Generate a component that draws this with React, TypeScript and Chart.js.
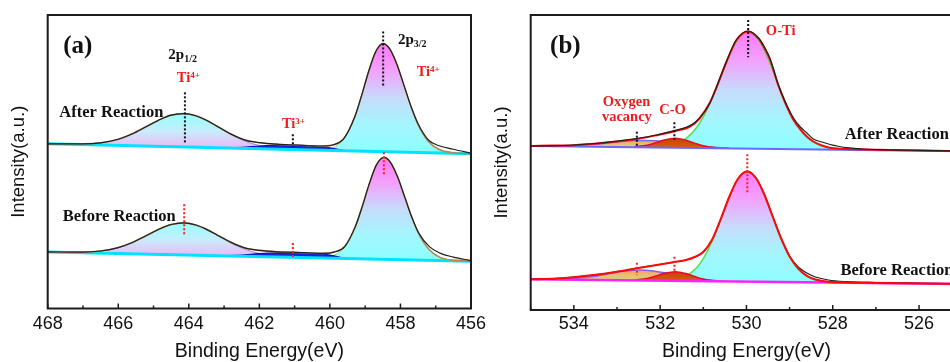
import React, { useEffect, useRef } from "react";
import { Chart, registerables } from "chart.js";

Chart.register(...registerables);

// ---------------- Panel (a): Ti 2p ----------------
const A_TICKS = [456, 458, 460, 462, 464, 466, 468];
const A_MINOR = [457, 459, 461, 463, 465, 467];

const A_AFTER_RAW_E = [468, 467, 466.5, 466, 465.6, 465.2, 464.8, 464.5, 464.15, 463.8, 463.5, 463.2, 462.8, 462.4, 462, 461.5, 461, 460.5, 460.2, 459.9, 459.6, 459.3, 459.1, 458.9, 458.7, 458.49, 458.3, 458.1, 457.9, 457.7, 457.5, 457.2, 456.9, 456.5, 456];
const A_AFTER_RAW_I = [165, 165, 166, 169.5, 175, 182.3, 189.6, 193.7, 195.3, 193.1, 188.6, 182.6, 174.7, 168.7, 166.1, 164.6, 163.8, 163, 162.8, 164, 170.5, 191.5, 213.5, 237.7, 257.3, 265.3, 259.8, 244.5, 223.5, 202.3, 185, 168.5, 163, 159.5, 155.5];
const A_AFTER_FIT_I = [165, 165, 166, 169.5, 175, 182.3, 189.6, 193.7, 195.3, 193.1, 188.6, 182.6, 174.7, 168.7, 166.1, 164.6, 163.8, 163, 162.8, 164, 170.5, 191.5, 213.5, 237.7, 257.3, 265.3, 259.8, 244.5, 223.5, 202.3, 184.2, 167, 159.2, 156, 155.1];

const A_BEFORE_RAW_E = [468, 467, 466.5, 466, 465.6, 465.2, 464.8, 464.5, 464.15, 463.8, 463.5, 463.2, 462.8, 462.4, 462, 461.5, 461, 460.5, 460.18, 459.88, 459.58, 459.28, 459.08, 458.88, 458.68, 458.47, 458.28, 458.08, 457.88, 457.68, 457.48, 457.18, 456.88, 456.5, 456];
const A_BEFORE_RAW_I = [56.7, 56.5, 57.6, 61, 66.1, 73.1, 80.2, 84.1, 85.8, 83.6, 79.3, 73.7, 66.2, 60.5, 58.2, 56.8, 56.2, 55.5, 55.2, 56.5, 62, 82, 102.5, 125.3, 143.9, 151.3, 146.2, 131.7, 111.8, 91.6, 75.5, 62, 55.5, 51.5, 48];
const A_BEFORE_FIT_I = [56.7, 56.5, 57.6, 61, 66.1, 73.1, 80.2, 84.1, 85.8, 83.6, 79.3, 73.7, 66.2, 60.5, 58.2, 56.8, 56.2, 55.5, 55.2, 56.5, 62, 82, 102.5, 125.3, 143.9, 151.3, 146.2, 131.7, 111.8, 91.6, 74.8, 58.8, 51.2, 48.2, 47.4];

const A_BG_E = [468, 456];
const A_AFTER_BG_I = [165, 155];
const A_BEFORE_BG_I = [56.7, 47.3];

const A_P12_E = [467.5, 467, 466.5, 466, 465.6, 465.2, 464.8, 464.5, 464.15, 463.8, 463.5, 463.2, 462.8, 462.4, 462, 461.5, 461];
const A_AFTER_P12_I = [164.7, 164.8, 165.85, 169.3, 174.7, 182.0, 189.4, 193.5, 195.2, 192.9, 188.35, 182.3, 174.1, 167.5, 163.3, 160.6, 159.4];
const A_BEFORE_P12_I = [56.4, 56.45, 57.5, 60.9, 66.0, 73.0, 80.1, 84.05, 85.7, 83.5, 79.1, 73.35, 65.5, 59.2, 55.2, 52.6, 51.4];

const A_TI3_E = [463, 462.5, 462, 461.5, 461, 460.5, 460, 459.6];
const A_AFTER_TI3_I = [160.9, 161.5, 162.8, 163.6, 163.6, 162.8, 161.0, 158.2];
const A_BEFORE_TI3_I = [52.9, 53.6, 55.0, 55.8, 56.0, 55.3, 53.5, 50.3];

const A_AFTER_P32_E = [460.2, 459.9, 459.6, 459.3, 459.1, 458.9, 458.7, 458.49, 458.3, 458.1, 457.9, 457.7, 457.5, 457.2, 456.9, 456.5];
const A_AFTER_P32_I = [159.1, 161.35, 170.1, 191.35, 213.3, 237.5, 257.15, 265.1, 259.6, 244.25, 223.2, 201.8, 183.85, 166.7, 158.95, 155.8];
const A_BEFORE_P32_E = [460.18, 459.88, 459.58, 459.28, 459.08, 458.88, 458.68, 458.47, 458.28, 458.08, 457.88, 457.68, 457.48, 457.18, 456.88, 456.48];
const A_BEFORE_P32_I = [51.2, 53.35, 61.5, 81.6, 102.3, 125.2, 143.8, 151.2, 146.05, 131.5, 111.65, 91.4, 74.55, 58.3, 51.05, 48.0];

const A_MARK_E = [464.11, 458.49, 461.05, 464.13, 458.47, 461.05];
const A_MARK_TOP = [216.5, 277.5, 174.5, 104.5, 156.5, 65.5];
const A_MARK_BOT = [165.5, 223.5, 161.8, 72.5, 132.5, 50.5];

// ---------------- Panel (b): O 1s ----------------
const B_TICKS = [526, 528, 530, 532, 534];
const B_MINOR = [525, 527, 529, 531, 533, 535];

const B_AFTER_RAW_E = [535, 534.5, 534, 533.5, 533.09, 532.54, 532.08, 531.67, 531.38, 531.19, 531.0, 530.84, 530.69, 530.46, 530.23, 529.96, 529.72, 529.57, 529.45, 529.26, 529.1, 528.91, 528.75, 528.6, 528.45, 528.25, 528.06, 527.9, 527.68, 527.3, 526.9, 526, 525];
const B_AFTER_RAW_I = [164, 164.2, 165, 166.5, 168.3, 171.5, 175, 179.3, 183, 187.5, 196.5, 207.5, 223.5, 249, 270.5, 279, 272, 262, 251, 225, 208, 192, 183, 177, 171, 168, 165.5, 164, 162.3, 161, 160.3, 159.6, 159];
const B_AFTER_FIT_E = [535, 534.78, 534.01, 533.24, 532.54, 532.08, 531.65, 531.31, 531.08, 530.84, 530.69, 530.46, 530.23, 529.96, 529.72, 529.57, 529.45, 529.26, 529.1, 528.91, 528.75, 528.6, 528.45, 528.25, 528.07, 527.8, 527, 526, 525];
const B_AFTER_FIT_I = [164, 164.3, 164.8, 167.5, 171, 174.8, 179, 183.3, 192, 208, 223, 248.5, 270, 278.6, 271.5, 261, 250, 224.5, 207, 190, 180.5, 173.5, 168.5, 164.5, 162.3, 161.2, 160.3, 159.5, 158.8];

const B_BEFORE_E = [535, 534.5, 534, 533.5, 533, 532.54, 532.08, 531.67, 531.4, 531.2, 531.0, 530.8, 530.6, 530.4, 530.2, 529.98, 529.78, 529.6, 529.4, 529.2, 529.0, 528.8, 528.6, 528.4, 528.1, 527.7, 527, 526, 525];
const B_BEFORE_RAW_I = [30.7, 31.2, 32.8, 35.2, 38.3, 41.8, 45, 48, 50, 53, 58, 70, 90.5, 113, 131, 138.8, 132, 117, 94.5, 72, 54, 43, 37, 33, 30, 28.4, 27.4, 26.7, 26.2];
const B_BEFORE_FIT_I = [30.7, 31.2, 32.8, 35.2, 38.3, 41.8, 45, 48, 50, 53, 58, 70, 90.5, 113, 131, 138.5, 132, 117, 94.5, 72, 53.5, 41.5, 34.2, 30.5, 28.3, 27.6, 27.1, 26.5, 26];

const B_BG_E = [535, 525];
const B_AFTER_BG_I = [164, 158.8];
const B_BEFORE_BG_I = [30.7, 26];

const B_AFTER_OTI_E = [532.0, 531.7, 531.4, 531.15, 531.0, 530.8, 530.6, 530.38, 530.2, 529.96, 529.75, 529.57, 529.4, 529.26, 529.1, 528.91, 528.75, 528.6, 528.4, 528.2, 527.9, 527.5];
const B_AFTER_OTI_I = [163.1, 165.2, 171.4, 182.7, 193.1, 211.3, 232.7, 255.9, 270.5, 278.4, 272.2, 258.4, 240.9, 225.3, 208.3, 191.2, 180.4, 172.9, 166.6, 163.2, 160.9, 160.15];
const B_BEFORE_OTI_E = [532.0, 531.7, 531.4, 531.15, 531.0, 530.8, 530.6, 530.4, 530.2, 529.98, 529.78, 529.6, 529.4, 529.2, 529.0, 528.8, 528.6, 528.4, 528.1, 527.7];
const B_BEFORE_OTI_I = [29.5, 30.4, 34.1, 42.6, 51.4, 68.2, 89.9, 112.6, 130.6, 138.3, 131.7, 116.4, 93.9, 71.5, 53.3, 40.9, 33.6, 30.0, 27.8, 27.1];

const B_AFTER_OVAC_E = [534.8, 534.3, 534.0, 533.6, 533.2, 532.9, 532.6, 532.35, 532.1, 531.8, 531.5, 531.2, 530.9, 530.4];
const B_AFTER_OVAC_I = [163.96, 164.0, 164.3, 165.4, 167.1, 168.4, 169.45, 169.6, 169.2, 167.8, 166.2, 164.5, 163.2, 162.0];
const B_BEFORE_OVAC_E = [534.8, 534.3, 534.0, 533.6, 533.2, 532.9, 532.6, 532.45, 532.2, 531.9, 531.6, 531.3, 531.0, 530.6];
const B_BEFORE_OVAC_I = [30.7, 30.9, 31.4, 33.2, 36.3, 38.5, 39.85, 40.0, 39.3, 37.2, 34.6, 32.15, 30.4, 29.1];

const B_CO_E = [532.6, 532.3, 532.1, 531.9, 531.65, 531.4, 531.2, 531.0, 530.7];
const B_AFTER_CO_I = [163.15, 164.8, 167.2, 170.0, 171.7, 169.7, 166.7, 164.1, 162.2];
const B_BEFORE_CO_I = [29.95, 31.5, 33.9, 36.6, 38.3, 36.4, 33.5, 30.9, 29.0];

const B_MARK_E = [529.96, 532.54, 531.67, 529.98, 532.54, 531.67];
const B_MARK_TOP = [290, 178.3, 187.7, 155.7, 47.3, 53.3];
const B_MARK_BOT = [252.7, 164, 170, 117.7, 34.7, 33.3];

// ---------------- styling ----------------
const SERIF = '"Liberation Serif", "Times New Roman", serif';
const SANS = '"Liberation Sans", Arial, sans-serif';
const INK = "#111111";
const RED = "#ee1c1c";

type Part = { t: string; size: number; dy?: number };
type Label = { e: number; h: number; color: string; parts: Part[] };

const A_LABELS: Label[] = [
  { e: 467.56, h: 256, color: INK, parts: [{ t: "(a)", size: 25 }] },
  { e: 464.58, h: 249.7, color: INK, parts: [{ t: "2p", size: 15 }, { t: "1/2", size: 10, dy: 2.5 }] },
  { e: 464.34, h: 227.3, color: RED, parts: [{ t: "Ti", size: 14.5 }, { t: "4+", size: 9, dy: -4 }] },
  { e: 467.67, h: 191.7, color: INK, parts: [{ t: "After Reaction", size: 16.5 }] },
  { e: 461.36, h: 180.7, color: RED, parts: [{ t: "Ti", size: 14.5 }, { t: "3+", size: 9, dy: -4 }] },
  { e: 458.07, h: 264.7, color: INK, parts: [{ t: "2p", size: 15 }, { t: "3/2", size: 10, dy: 2.5 }] },
  { e: 457.54, h: 233, color: RED, parts: [{ t: "Ti", size: 14.5 }, { t: "4+", size: 9, dy: -4 }] },
  { e: 467.57, h: 87.3, color: INK, parts: [{ t: "Before Reaction", size: 16.5 }] },
];

const B_LABELS: Label[] = [
  { e: 534.55, h: 257, color: INK, parts: [{ t: "(b)", size: 25 }] },
  { e: 529.55, h: 275, color: RED, parts: [{ t: "O-Ti", size: 14.5 }] },
  { e: 533.33, h: 204, color: RED, parts: [{ t: "Oxygen", size: 14.5 }] },
  { e: 533.35, h: 189.3, color: RED, parts: [{ t: "vacancy", size: 14.5 }] },
  { e: 532.02, h: 196, color: RED, parts: [{ t: "C-O", size: 14.5 }] },
  { e: 527.72, h: 170.7, color: INK, parts: [{ t: "After Reaction", size: 16.5 }] },
  { e: 527.82, h: 34.7, color: INK, parts: [{ t: "Before Reaction", size: 16.5 }] },
];

// gradient stops (top -> bottom)
const PINK_TO_CYAN = ["#ff78ff", "#f2a2fc", "#c6dcfc", "#a4f6ff", "#8cffff"];
const CYAN_TO_PINK = ["#94ffff", "#c8ecfc", "#f2b2f6"];
const OVAC_STOPS = ["#f4a068", "#e8c070", "#d2d878"];
const CO_STOPS = ["#c64400", "#d85c10"];

// ---------------- helpers ----------------
const pts = (xs: number[], ys: number[]) => xs.map((x, i) => ({ x, y: ys[i] }));

const curve = (xs: number[], ys: number[], color: string, width: number, extra: any = {}) => ({
  data: pts(xs, ys),
  borderColor: color,
  borderWidth: width,
  pointRadius: 0,
  fill: false,
  cubicInterpolationMode: "monotone",
  ...extra,
});

const vGrad = (stops: string[]) => (c: any) => {
  const chart = c.chart;
  if (!chart.chartArea || !c.dataset) return stops[0];
  const ys = c.dataset.data.map((p: any) => p.y);
  const sy = chart.scales.y;
  const y0 = sy.getPixelForValue(Math.max(...ys));
  let y1 = sy.getPixelForValue(Math.min(...ys));
  if (Math.abs(y1 - y0) < 1) y1 = y0 + 1;
  const g = chart.ctx.createLinearGradient(0, y0, 0, y1);
  stops.forEach((s, i) => g.addColorStop(i / (stops.length - 1), s));
  return g;
};

const markers = (es: number[], tops: number[], bots: number[]) =>
  es.map((e, i) => ({
    data: [{ x: e, y: tops[i] }, { x: e, y: bots[i] }],
    borderColor: i < 3 ? "#111111" : "#ff1e1e",
    borderWidth: 2,
    borderDash: [2, 2],
    pointRadius: 0,
    fill: false,
    tension: 0,
  }));

const overlayPlugin = {
  id: "overlay",
  afterDatasetsDraw(chart: any, _args: any, opts: any) {
    const { ctx, chartArea: a, scales } = chart;
    const sx = scales.x;
    const sy = scales.y;
    ctx.save();
    // frame
    ctx.strokeStyle = "#1c1c1c";
    ctx.lineWidth = 2;
    ctx.strokeRect(a.left, a.top, a.right - a.left, a.bottom - a.top);
    // inward ticks
    ctx.lineWidth = 1.5;
    const tick = (v: number, len: number) => {
      const x = sx.getPixelForValue(v);
      ctx.beginPath();
      ctx.moveTo(x, a.bottom);
      ctx.lineTo(x, a.bottom - len);
      ctx.stroke();
    };
    (opts.majors || []).forEach((v: number) => tick(v, 5));
    (opts.minors || []).forEach((v: number) => tick(v, 3));
    // labels
    ctx.textBaseline = "alphabetic";
    ctx.textAlign = "left";
    (opts.labels || []).forEach((l: Label) => {
      let x = sx.getPixelForValue(l.e);
      const y = sy.getPixelForValue(l.h);
      ctx.fillStyle = l.color;
      l.parts.forEach((p) => {
        ctx.font = `bold ${p.size}px ${SERIF}`;
        ctx.fillText(p.t, x, y + (p.dy || 0));
        x += ctx.measureText(p.t).width;
      });
    });
    ctx.restore();
  },
};

const baseOptions = (
  min: number,
  max: number,
  ymax: number,
  ticks: number[],
  minors: number[],
  labels: Label[],
  pad: any,
  tickPad: number,
  xTitlePadTop: number,
  yTitlePad: any
) => ({
  responsive: false,
  animation: false,
  devicePixelRatio: 1,
  events: [],
  layout: { padding: pad },
  plugins: {
    legend: { display: false },
    tooltip: { enabled: false },
    overlay: { majors: ticks, minors, labels },
  },
  scales: {
    x: {
      type: "linear",
      reverse: true,
      min,
      max,
      afterBuildTicks: (s: any) => {
        s.ticks = ticks.map((v) => ({ value: v }));
      },
      grid: { display: false, drawTicks: false },
      border: { display: false },
      ticks: {
        color: INK,
        padding: tickPad,
        autoSkip: false,
        minRotation: 0,
        maxRotation: 0,
        font: { family: SANS, size: 18, lineHeight: 1.2 },
      },
      title: {
        display: true,
        text: "Binding Energy(eV)",
        color: INK,
        font: { family: SANS, size: 19.5, lineHeight: 1.1 },
        padding: { top: xTitlePadTop, bottom: 0 },
      },
    },
    y: {
      type: "linear",
      min: 0,
      max: ymax,
      ticks: { display: false },
      grid: { display: false, drawTicks: false },
      border: { display: false },
      title: {
        display: true,
        text: "Intensity(a.u.)",
        color: INK,
        font: { family: SANS, size: 18.5, lineHeight: 1.2 },
        padding: yTitlePad,
      },
    },
  },
});

function makeConfigA(): any {
  const datasets: any[] = [
    ...markers(A_MARK_E, A_MARK_TOP, A_MARK_BOT), // 0-5
    curve(A_AFTER_RAW_E, A_AFTER_RAW_I, "#202020", 1.2), // 6
    curve(A_AFTER_RAW_E, A_AFTER_FIT_I, "#b58a55", 1.6), // 7
    curve(A_BEFORE_RAW_E, A_BEFORE_RAW_I, "#202020", 1.2), // 8
    curve(A_BEFORE_RAW_E, A_BEFORE_FIT_I, "#b58a55", 1.6), // 9
    curve(A_BG_E, A_AFTER_BG_I, "#00e2ff", 3, { cubicInterpolationMode: "default", tension: 0 }), // 10
    curve(A_BG_E, A_BEFORE_BG_I, "#00e2ff", 3, { cubicInterpolationMode: "default", tension: 0 }), // 11
    curve(A_TI3_E, A_AFTER_TI3_I, "#0018c8", 1.2, { fill: 10, backgroundColor: "rgba(8,26,210,0.95)" }), // 12
    curve(A_TI3_E, A_BEFORE_TI3_I, "#0018c8", 1.2, { fill: 11, backgroundColor: "rgba(8,26,210,0.95)" }), // 13
    curve(A_P12_E, A_AFTER_P12_I, "rgba(150,120,220,0.9)", 1, { fill: 10, backgroundColor: vGrad(CYAN_TO_PINK) }), // 14
    curve(A_AFTER_P32_E, A_AFTER_P32_I, "rgba(140,220,120,0.9)", 1, { fill: 10, backgroundColor: vGrad(PINK_TO_CYAN) }), // 15
    curve(A_P12_E, A_BEFORE_P12_I, "rgba(150,120,220,0.9)", 1, { fill: 11, backgroundColor: vGrad(CYAN_TO_PINK) }), // 16
    curve(A_BEFORE_P32_E, A_BEFORE_P32_I, "rgba(140,220,120,0.9)", 1, { fill: 11, backgroundColor: vGrad(PINK_TO_CYAN) }), // 17
  ];
  return {
    type: "line",
    data: { datasets },
    options: baseOptions(456, 468, 294, A_TICKS, A_MINOR, A_LABELS, { left: 0, top: 15, right: 19, bottom: 0 }, 5, 0.45, { top: 7.4, bottom: 18.1 }),
    plugins: [overlayPlugin],
  };
}

function makeConfigB(): any {
  const datasets: any[] = [
    ...markers(B_MARK_E, B_MARK_TOP, B_MARK_BOT), // 0-5
    curve(B_AFTER_RAW_E, B_AFTER_RAW_I, "#202020", 1.2), // 6
    curve(B_AFTER_FIT_E, B_AFTER_FIT_I, "#ff0a0a", 2), // 7
    curve(B_BEFORE_E, B_BEFORE_FIT_I, "#ff0a0a", 2), // 8
    curve(B_BEFORE_E, B_BEFORE_RAW_I, "#202020", 1.2), // 9
    curve(B_BG_E, B_AFTER_BG_I, "#6a6aff", 2, { cubicInterpolationMode: "default", tension: 0 }), // 10
    curve(B_BG_E, B_BEFORE_BG_I, "#ff22ff", 2.5, { cubicInterpolationMode: "default", tension: 0 }), // 11
    curve(B_CO_E, B_AFTER_CO_I, "#e0102a", 1.6, { fill: 10, backgroundColor: vGrad(CO_STOPS) }), // 12
    curve(B_AFTER_OVAC_E, B_AFTER_OVAC_I, "#7b68ee", 1.5, { fill: 10, backgroundColor: vGrad(OVAC_STOPS) }), // 13
    curve(B_AFTER_OTI_E, B_AFTER_OTI_I, "#50e050", 1.5, { fill: 10, backgroundColor: vGrad(PINK_TO_CYAN) }), // 14
    curve(B_CO_E, B_BEFORE_CO_I, "#e0102a", 1.6, { fill: 11, backgroundColor: vGrad(CO_STOPS) }), // 15
    curve(B_BEFORE_OVAC_E, B_BEFORE_OVAC_I, "#7b68ee", 1.5, { fill: 11, backgroundColor: vGrad(OVAC_STOPS) }), // 16
    curve(B_BEFORE_OTI_E, B_BEFORE_OTI_I, "#50e050", 1.5, { fill: 11, backgroundColor: vGrad(PINK_TO_CYAN) }), // 17
  ];
  return {
    type: "line",
    data: { datasets },
    options: baseOptions(525, 535, 295, B_TICKS, B_MINOR, B_LABELS, { left: 0, top: 15, right: 7.8, bottom: 0 }, 3.5, 1.95, { top: 10.4, bottom: 18.1 }),
    plugins: [overlayPlugin],
  };
}

function Panel({ make, left, width }: { make: () => any; left: number; width: number }) {
  const ref = useRef<HTMLCanvasElement | null>(null);
  useEffect(() => {
    if (!ref.current) return;
    const chart = new Chart(ref.current, make());
    return () => chart.destroy();
  }, [make]);
  return (
    <canvas
      ref={ref}
      width={width}
      height={362}
      style={{ position: "absolute", left, top: 0, width, height: 362 }}
    />
  );
}

export default function App() {
  return (
    <div
      style={{
        position: "fixed",
        left: 0,
        top: 0,
        width: 950,
        height: 362,
        overflow: "hidden",
        background: "#ffffff",
      }}
    >
      <Panel make={makeConfigA} left={0} width={490} />
      <Panel make={makeConfigB} left={480} width={490} />
    </div>
  );
}
